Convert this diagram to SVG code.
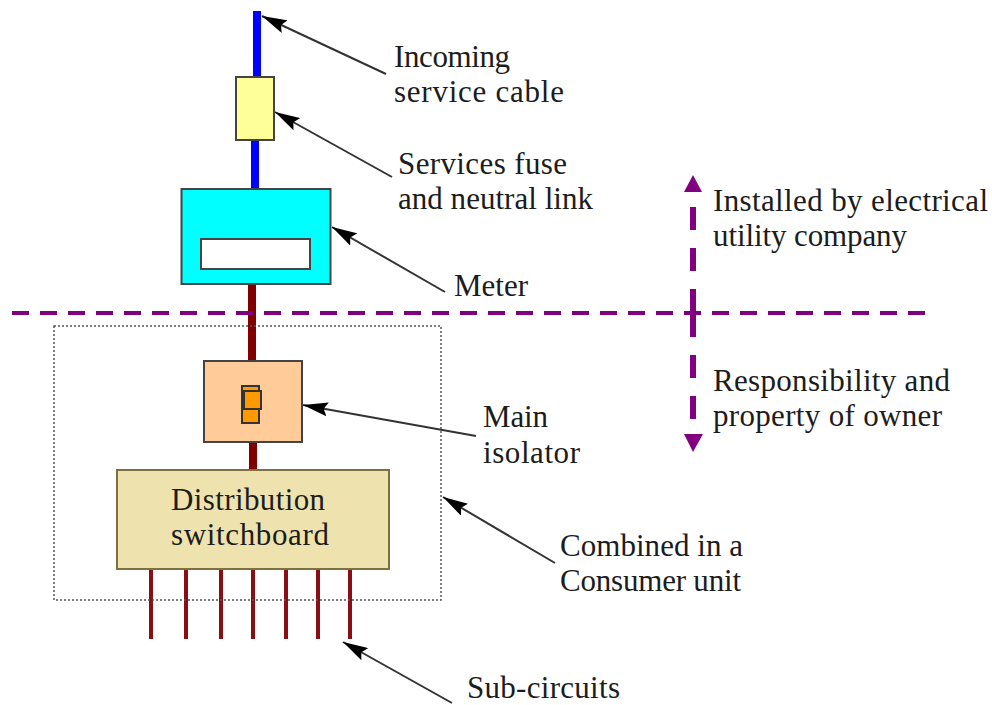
<svg xmlns="http://www.w3.org/2000/svg" width="992" height="705" viewBox="0 0 992 705">
<style>
text{font-family:"Liberation Serif","Times New Roman",serif;font-size:31px;fill:#1c1c1c}
.box{stroke:#444;stroke-width:2}
.blue{stroke:#0000ff;stroke-width:8;fill:none}
.red{stroke:#800000;stroke-width:8;fill:none}
.sub{stroke:#8a0f14;stroke-width:4;fill:none}
.lead{stroke:#333;stroke-width:2;fill:none;marker-end:url(#ah)}
.dash{stroke:#800080;stroke-width:4;fill:none;stroke-dasharray:17 11}
.vd{stroke:#800080;stroke-width:6;fill:none}
</style>
<defs>
<marker id="ah" markerUnits="userSpaceOnUse" markerWidth="26" markerHeight="14" refX="25" refY="7" orient="auto"><path d="M0 0L25 7L0 14L4 7Z" fill="#000"/></marker>
</defs>
<rect width="992" height="705" fill="#fff"/>
<g id="connectors">
<path class="blue" d="M257 11V78"/>
<path class="blue" d="M255 140V189"/>
<path class="red" d="M252 284V361"/>
<path class="red" d="M253 442V470"/>
<path class="sub" d="M151 569V639M186 569V639M221 569V639M253 569V639M286 569V639M318 569V639M350 569V639"/>
<path class="lead" d="M386 74L262 16"/>
<path class="lead" d="M392 177L275 112"/>
<path class="lead" d="M445 292L332 227"/>
<path class="lead" d="M476 436L303 405"/>
<path class="lead" d="M555 563L443 497"/>
<path class="lead" d="M452 703L343 642"/>
<path class="dash" d="M12 313H925"/>
<path class="vd" d="M693 207V230M693 248V271M693 289V337M693 355V378M693 396V419"/>
<path d="M693 175L702 192H684Z" fill="#800080"/>
<path d="M693 452L684 434H703Z" fill="#800080"/>
</g>
<g id="consumer-unit"><rect x="54" y="326" width="387" height="274" fill="none" stroke="#555" stroke-width="1.5" stroke-dasharray="2 2"/></g>
<g id="fuse"><rect class="box" x="236" y="77" width="38" height="63" fill="#ffff99"/></g>
<g id="meter"><rect class="box" x="181.500" y="189" width="149" height="95" fill="#00ffff"/><rect class="box" x="201" y="239" width="109" height="30" fill="#fff"/></g>
<g id="isolator"><rect class="box" x="204" y="361" width="98" height="81" fill="#ffcc99"/><rect x="242" y="386" width="17" height="37" fill="#ff9900" stroke="#333" stroke-width="2"/><rect x="244" y="391" width="17" height="18" fill="#ff9900" stroke="#333" stroke-width="2"/></g>
<g id="switchboard"><rect x="117" y="470" width="272" height="99" fill="#eee3ae" stroke="#7f7040" stroke-width="2"/><text x="171" y="510" textLength="154">Distribution</text><text x="171" y="545" textLength="158">switchboard</text></g>
<g id="labels">
<text x="394" y="67" textLength="116">Incoming</text><text x="394" y="102" textLength="170">service cable</text>
<text x="398" y="174" textLength="169">Services fuse</text><text x="398" y="209" textLength="195">and neutral link</text>
<text x="454" y="296" textLength="74">Meter</text>
<text x="483" y="427" textLength="65">Main</text><text x="483" y="463" textLength="97">isolator</text>
<text x="713" y="211" textLength="275">Installed by electrical</text><text x="713" y="246" textLength="194">utility company</text>
<text x="713" y="391" textLength="237">Responsibility and</text><text x="713" y="426" textLength="229">property of owner</text>
<text x="560" y="556" textLength="183">Combined in a</text><text x="560" y="591" textLength="181">Consumer unit</text>
<text x="467" y="698" textLength="153">Sub-circuits</text>
</g>
</svg>
